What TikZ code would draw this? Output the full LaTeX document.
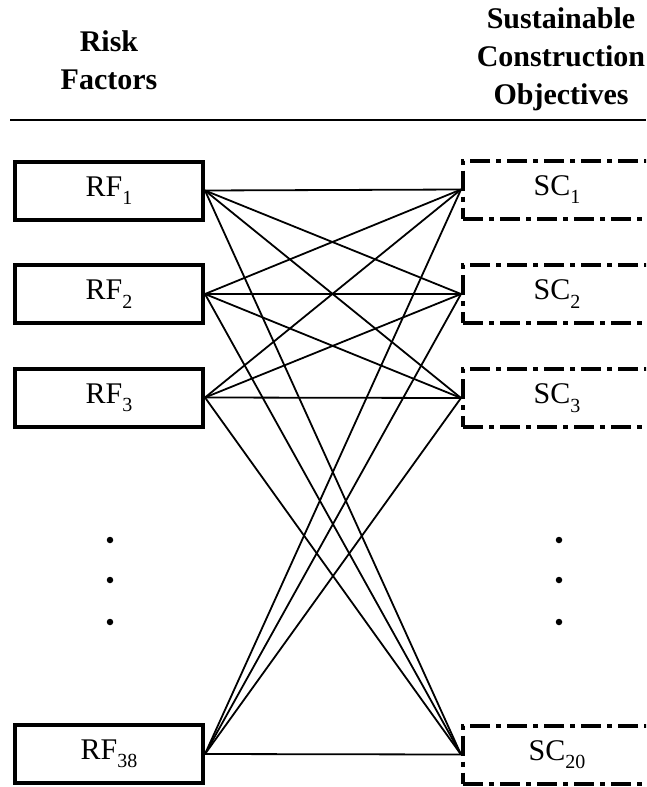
\documentclass[tikz,border=0pt]{standalone}
\usepackage{fontspec}
\setmainfont{Liberation Serif}
\newcommand{\lowidx}[1]{\raisebox{-0.28em}{\fontsize{20}{20}\selectfont #1}}
\tikzset{
  rfbox/.style={draw, line width=4pt, minimum width=188pt, minimum height=58pt,
    inner sep=0pt, font=\fontsize{30}{30}\selectfont},
  scbox/.style={draw, line width=4pt, minimum width=188pt, minimum height=58pt,
    inner sep=0pt, font=\fontsize{30}{30}\selectfont,
    dash pattern=on 20pt off 6pt on 5pt off 6pt},
  link/.style={line width=1.8pt},
  head/.style={align=center, font=\bfseries\fontsize{30}{38}\selectfont},
  vdot/.style={circle, fill, inner sep=0pt, minimum size=6.5pt}
}
\begin{document}
\begin{tikzpicture}[x=1pt, y=-1pt]
\useasboundingbox (0,0) rectangle (646,787);
\begin{scope}
\clip (0,0) rectangle (646,787);

% column headings and rule
\node[head] (hrf) at (109,60) {Risk\\Factors};
\node[head] (hsc) at (561,59) {Sustainable\\Construction\\Objectives};
\coordinate (ruleL) at (10,120);
\coordinate (ruleR) at (646,120);
\draw[line width=2.5pt] (ruleL) -- (ruleR);

% risk factor boxes
\node[rfbox] (rf1)  at (109,190.5) {RF\lowidx{1}};
\node[rfbox] (rf2)  at (109,294)   {RF\lowidx{2}};
\node[rfbox] (rf3)  at (109,397.5) {RF\lowidx{3}};
\node[rfbox] (rf38) at (109,754)   {RF\lowidx{38}};

% objective boxes
\node[scbox] (sc1)  at (557,189.5) {SC\lowidx{1}};
\node[scbox] (sc2)  at (557,294)   {SC\lowidx{2}};
\node[scbox] (sc3)  at (557,398)   {SC\lowidx{3}};
\node[scbox] (sc20) at (557,754.5) {SC\lowidx{20}};

% ellipsis dots
\foreach \yy [count=\i] in {540,580,622} {
  \node[vdot] (ldot\i) at (110,\yy) {};
  \node[vdot] (rdot\i) at (559,\yy) {};
}

% every risk factor linked to every objective
\foreach \r in {rf1,rf2,rf3,rf38}
  \foreach \s in {sc1,sc2,sc3,sc20}
    \draw[link] (\r.east) -- (\s.west);
\end{scope}
\end{tikzpicture}
\end{document}
